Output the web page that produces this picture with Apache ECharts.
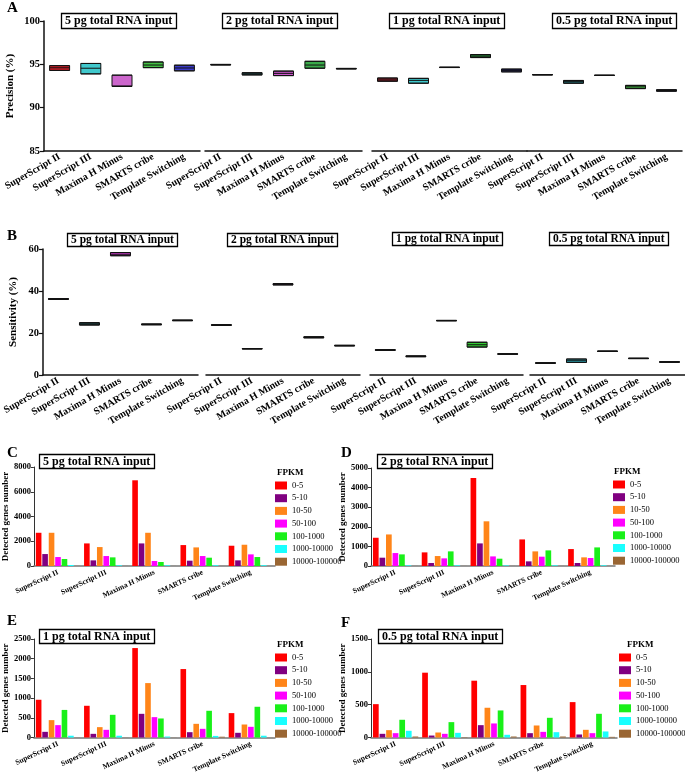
<!DOCTYPE html>
<html><head><meta charset="utf-8">
<script src="https://cdn.jsdelivr.net/npm/echarts@6/dist/echarts.min.js"></script>
<style>html,body{margin:0;padding:0;background:#fff}#c{width:685px;height:783px}</style>
</head><body><div id="c"></div>
<script>
// ---------- data ----------
const methods = ['SuperScript II','SuperScript III','Maxima H Minus','SMARTS cribe','Template Switching'];
const inputs = ['5 pg total RNA input','2 pg total RNA input','1 pg total RNA input','0.5 pg total RNA input'];
// precision (%) per method: [min, median, max]
const precision5pg  = [[94.3,94.6,94.85],[93.9,94.55,95.1],[92.45,92.5,93.75],[94.62,94.92,95.27],[94.25,94.58,94.9]];
const precision2pg  = [[94.93,94.96,94.99],[93.78,93.9,94.03],[93.7,93.96,94.22],[94.55,94.92,95.35],[94.47,94.5,94.53]];
const precision1pg  = [[93.05,93.2,93.42],[92.82,93.15,93.38],[94.63,94.65,94.67],[95.78,95.95,96.13],[94.13,94.3,94.45]];
const precision05pg = [[93.78,93.8,93.82],[92.82,93.0,93.14],[93.71,93.73,93.75],[92.2,92.4,92.57],[91.9,91.98,92.07]];
// sensitivity (%) per method: [min, median, max]
const sensitivity5pg  = [[36.0,36.2,36.4],[23.8,24.3,24.9],[56.8,57.5,58.3],[23.9,24.1,24.3],[25.85,26.0,26.15]];
const sensitivity2pg  = [[23.65,23.8,23.95],[12.4,12.5,12.6],[42.9,43.2,43.5],[17.7,17.9,18.2],[13.85,14.0,14.15]];
const sensitivity1pg  = [[11.75,11.9,12.05],[8.7,8.9,9.1],[25.8,25.9,26.0],[13.3,14.4,15.6],[9.9,10.0,10.1]];
const sensitivity05pg = [[5.6,5.7,5.8],[6.0,6.8,7.6],[11.2,11.3,11.4],[7.8,7.9,8.0],[6.1,6.2,6.3]];
// FPKM bins and detected gene counts [bin][method]
const fpkmBins = ['0-5','5-10','10-50','50-100','100-1000','1000-10000','10000-100000'];
const genes5pg = [
  [2685,1825,6926,1691,1638],
  [966,456,1825,430,456],
  [2685,1530,2685,1503,1718],
  [725,805,403,805,940],
  [564,698,322,671,725],
  [80,55,55,60,60],
  [5,4,4,4,4]];
const genes2pg = [
  [1441,695,4491,1356,864],
  [424,153,1153,237,153],
  [1610,508,2280,746,441],
  [661,390,490,475,407],
  [593,746,373,797,949],
  [34,34,30,34,34],
  [3,3,3,3,3]];
const genes1pg = [
  [958,805,2270,1737,619],
  [144,93,601,135,119],
  [441,263,1381,347,330],
  [314,195,517,220,271],
  [700,576,483,678,780],
  [45,45,25,40,45],
  [3,3,3,20,3]];
const genes05pg = [
  [508,987,865,799,539],
  [56,30,188,66,46],
  [112,76,453,183,117],
  [66,56,214,86,66],
  [270,234,412,300,361],
  [102,71,41,81,92],
  [15,5,15,15,10]];

// ---------- styles ----------
const SERIF = 'Liberation Serif';
const binColors = ['#ff0000','#800080','#ff8519','#ff00ff','#19f019','#19ffff','#9a6633'];
const boxColorsA = [
  ['#d0202a','#40c8cc','#cc66cc','#44c044','#3a3ac8'],
  ['#222222','#2a8080','#cc55cc','#3aaa4a','#222222'],
  ['#b02030','#40c8cc','#444444','#2a8a3a','#2a2ab8'],
  ['#555555','#2a8a90','#444444','#44bb44','#2a2aa8']];
const boxColorsB = [
  ['#802030','#2a6a6a','#e040e0','#204020','#2a4a4a'],
  ['#222222','#555555','#c040c0','#2a4a2a','#444444'],
  ['#222222','#222222','#555555','#33cc33','#666666'],
  ['#444444','#33bbcc','#333333','#333333','#222222']];

const gridsA = [{left:44,width:156},{left:205,width:157},{left:372,width:155},{left:527,width:155}].map(g=>Object.assign({top:21,height:130},g));
const gridsB = [{left:40,width:158},{left:206,width:154},{left:370,width:153},{left:530,width:155}].map(g=>Object.assign({top:249,height:126},g));
const gridsC = [
  {left:31,top:467,width:244,height:99},
  {left:371,top:468,width:244,height:98},
  {left:32,top:639,width:243,height:98.5},
  {left:371,top:639,width:246,height:98.5}];

const grid=[], xAxis=[], yAxis=[], series=[], title=[], legend=[];
function boxTitle(text,left,top,fs,pad){
  title.push({text,left,top,padding:pad,borderWidth:1.3,borderColor:'#000',
    textStyle:{fontFamily:SERIF,fontWeight:'bold',fontSize:fs,color:'#000'}});
}
function plainTitle(text,left,top,fs){
  title.push({text,left,top,padding:0,textStyle:{fontFamily:SERIF,fontWeight:'bold',fontSize:fs,color:'#000'}});
}

function addBoxPanel(grids, datasets, colors, yMin, yMax, yInt, yName, nameGap){
  grids.forEach((g,i)=>{
    const idx = grid.length;
    grid.push(g);
    xAxis.push({type:'category',gridIndex:idx,data:methods,
      axisLine:{lineStyle:{color:'#111',width:1.5}},
      axisTick:{alignWithLabel:true,length:4,lineStyle:{color:'#111',width:1.2}},
      axisLabel:{interval:0,rotate:30,margin:5,fontFamily:SERIF,fontWeight:'bold',fontSize:10,color:'#000'}});
    yAxis.push({type:'value',gridIndex:idx,min:yMin,max:yMax,interval:yInt,show:i===0,
      name:i===0?yName:'',nameLocation:'middle',nameGap:nameGap,
      nameTextStyle:{fontFamily:SERIF,fontWeight:'bold',fontSize:11,color:'#000'},
      splitLine:{show:false},
      axisLine:{show:true,lineStyle:{color:'#111',width:1.5}},
      axisTick:{show:true,length:4,lineStyle:{color:'#111',width:1.2}},
      axisLabel:{fontFamily:SERIF,fontWeight:'bold',fontSize:10.5,color:'#000',margin:4}});
    series.push({type:'boxplot',xAxisIndex:idx,yAxisIndex:idx,boxWidth:[20,20],
      data:datasets[i].map((d,k)=>({value:[d[0],d[0],d[1],d[2],d[2]],
        itemStyle:{color:colors[i][k],borderColor:'#111',borderWidth:1}})),
      emphasis:{disabled:true}});
  });
}

addBoxPanel(gridsA,[precision5pg,precision2pg,precision1pg,precision05pg],boxColorsA,85,100,5,'Precision (%)',28);
addBoxPanel(gridsB,[sensitivity5pg,sensitivity2pg,sensitivity1pg,sensitivity05pg],boxColorsB,0,60,20,'Sensitivity (%)',24);

const genePanels = [
  {data:genes5pg,max:8000,int:2000},
  {data:genes2pg,max:5000,int:1000},
  {data:genes1pg,max:2500,int:500},
  {data:genes05pg,max:1500,int:500}];
const legendPos = [{left:275,top:481},{left:613,top:480},{left:275,top:653},{left:619,top:653}];
genePanels.forEach((p,i)=>{
  const idx = grid.length;
  grid.push(gridsC[i]);
  xAxis.push({type:'category',gridIndex:idx,data:methods,
    axisLine:{lineStyle:{color:'#777',width:1.5}},
    axisTick:{alignWithLabel:true,length:3,lineStyle:{color:'#333',width:1}},
    axisLabel:{interval:0,rotate:25,margin:6,fontFamily:SERIF,fontWeight:'bold',fontSize:7.5,color:'#000'}});
  yAxis.push({type:'value',gridIndex:idx,min:0,max:p.max,interval:p.int,
    name:'Detected genes number',nameLocation:'middle',nameGap:20,
    nameTextStyle:{fontFamily:SERIF,fontWeight:'bold',fontSize:9,color:'#000'},
    splitLine:{show:false},
    axisLine:{show:true,lineStyle:{color:'#333',width:1}},
    axisTick:{show:true,length:3,lineStyle:{color:'#333',width:1}},
    axisLabel:{fontFamily:SERIF,fontWeight:'bold',fontSize:8.5,color:'#000',margin:3,formatter:v=>String(v)}});
  fpkmBins.forEach((b,k)=>{
    series.push({type:'bar',name:b,xAxisIndex:idx,yAxisIndex:idx,data:p.data[k],
      barGap:'15%',barCategoryGap:'8%',
      itemStyle:{color:binColors[k]},emphasis:{disabled:true}});
  });
  legend.push(Object.assign({orient:'vertical',itemWidth:12,itemHeight:8,itemGap:3.7,icon:'rect',
    selectedMode:false,padding:0,data:fpkmBins,
    textStyle:{fontFamily:SERIF,fontSize:8.5,color:'#000'}},legendPos[i]));
});

// titles
[[61,13],[222,13],[389,13],[552,13]].forEach((p,i)=>boxTitle(inputs[i],p[0],p[1],12,[2,4,2,4]));
[[67,233],[227,233],[392,232],[549,232]].forEach((p,i)=>boxTitle(inputs[i],p[0],p[1],11.5,[1,4,1,4]));
[[39,454],[377,454],[39,629],[378,629]].forEach((p,i)=>boxTitle(inputs[i],p[0],p[1],12,[2,4,1,4]));
plainTitle('A',7,1,15); plainTitle('B',7,229,15); plainTitle('C',7,446,15);
plainTitle('D',341,446,15); plainTitle('E',7,614,15); plainTitle('F',341,616,15);
plainTitle('FPKM',277,468,9); plainTitle('FPKM',614,467,9);
plainTitle('FPKM',277,640,9); plainTitle('FPKM',627,640,9);

const chart = echarts.init(document.getElementById('c'),null,{renderer:'canvas'});
chart.setOption({animation:false,backgroundColor:'#fff',title,legend,grid,xAxis,yAxis,series});
</script></body></html>
